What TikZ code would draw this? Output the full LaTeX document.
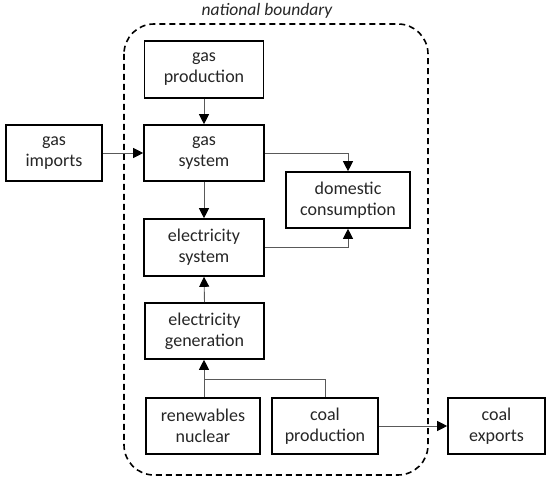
\documentclass[tikz,border=0pt]{standalone}
\usepackage{fontspec}
\setmainfont{Carlito}
\usetikzlibrary{arrows.meta}
\begin{document}
\begin{tikzpicture}[x=1pt,y=-1pt,
  box/.style={draw=black,line width=1.6pt,fill=white,align=center,inner sep=0pt,
    text=black!85,font=\fontsize{18}{21}\selectfont},
  conn/.style={draw=black!65,line width=0.9pt,-{Triangle[length=10pt,width=10pt,fill=black,color=black]}},
  line/.style={draw=black!65,line width=0.9pt}]
\useasboundingbox (0,0) rectangle (550,481);
\draw[line width=1.6pt,dash pattern=on 6pt off 4pt,rounded corners=30pt] (124,24) rectangle (428,475);
\node[font=\fontsize{17.5}{20}\selectfont\itshape,text=black!85] (lbl) at (267,11) {national boundary};
\node[box,minimum width=119pt,minimum height=57pt] (gp) at (204,69.5) {gas\\production};
\node[box,minimum width=120pt,minimum height=56pt] (gs) at (204,153) {gas\\system};
\node[box,minimum width=96pt,minimum height=56pt] (gi) at (54,153) {gas\\imports};
\node[box,minimum width=124pt,minimum height=56pt] (dc) at (348,200) {domestic\\consumption};
\node[box,minimum width=120pt,minimum height=57pt] (es) at (204,247.5) {electricity\\system};
\node[box,minimum width=119pt,minimum height=56pt] (eg) at (204.5,331) {electricity\\generation};
\node[box,minimum width=114pt,minimum height=56pt] (rn) at (203,426) {renewables\\nuclear};
\node[box,minimum width=106pt,minimum height=56pt] (cp) at (325,426) {coal\\production};
\node[box,minimum width=97pt,minimum height=56pt] (ce) at (496.5,426) {coal\\exports};
\coordinate (j) at (204,379);
\draw[conn] (gp.south) -- (gs.north);
\draw[conn] (gi.east) -- (gs.west);
\draw[conn] (gs.south) -- (es.north);
\draw[conn] (gs.east) -| (dc.north);
\draw[conn] (es.east) -| (dc.south);
\draw[conn] (eg.north) -- (es.south);
\draw[line] (rn.north -| j) -- (j);
\draw[line] (cp.north) |- (j);
\draw[conn] (j) -- (eg.south -| j);
\draw[conn] (cp.east) -- (ce.west);
\end{tikzpicture}
\end{document}
